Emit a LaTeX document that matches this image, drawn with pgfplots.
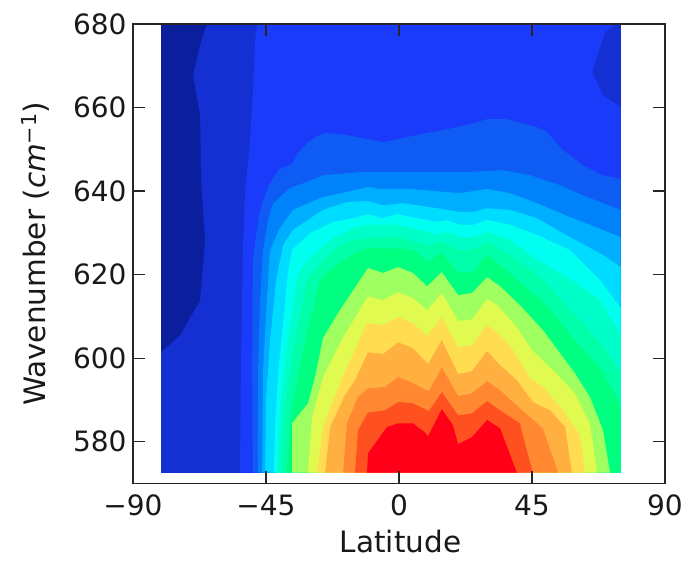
\documentclass[border=0pt]{standalone}
\usepackage{fontspec}
\setmainfont{DejaVu Sans}
\usepackage{pgfplots}
\pgfplotsset{compat=1.18}
\definecolor{c1}{HTML}{0B1F9E}
\definecolor{c2}{HTML}{1430D2}
\definecolor{c3}{HTML}{1A3CFA}
\definecolor{c4}{HTML}{0F5CF5}
\definecolor{c5}{HTML}{0082FA}
\definecolor{c6}{HTML}{00AEFF}
\definecolor{c7}{HTML}{00DCFF}
\definecolor{c8}{HTML}{00FFF0}
\definecolor{c9}{HTML}{00FFC8}
\definecolor{c10}{HTML}{00FFA8}
\definecolor{c11}{HTML}{00FF80}
\definecolor{c12}{HTML}{A0FF60}
\definecolor{c13}{HTML}{E0FA50}
\definecolor{c14}{HTML}{FFDC50}
\definecolor{c15}{HTML}{FFB040}
\definecolor{c16}{HTML}{FF8830}
\definecolor{c17}{HTML}{FF5020}
\definecolor{c18}{HTML}{FF0018}
\begin{document}
\begin{tikzpicture}
\useasboundingbox (-133pt,-77.5pt) rectangle (557pt,483.5pt);
\begin{axis}[
  at={(0pt,0pt)},anchor=south west,
  scale only axis,width=532pt,height=459.5pt,
  xmin=-90,xmax=90,ymin=570,ymax=680,
  axis on top,
  axis line style={line width=1.3pt,black!85},
  tick style={line width=1.2pt,black!85},
  tick align=inside,major tick length=12pt,
  xtick={-90,-45,0,45,90},xticklabels={−90,−45,0,45,90},
  ytick={580,600,620,640,660,680},yticklabels={580,600,620,640,660,680},
  tick label style={font=\fontsize{28}{28}\selectfont,black!90},
  xticklabel style={yshift=-8pt},
  yticklabel style={xshift=-3pt},
  xlabel={Latitude},
  ylabel={Wavenumber ({\itshape cm}\textsuperscript{−1})},
  label style={font=\fontsize{29.5}{29.5}\selectfont,black!90},
  xlabel style={inner sep=0pt,yshift=-10.5pt,xshift=1.5pt},
  ylabel style={yshift=17pt},
  every axis plot/.append style={draw=none,mark=none,forget plot},
]
\addplot[fill=c2] coordinates {(-80.5,572.6)(-80.5,680)(75,680)(75,572.6)};
\addplot[fill=c1] coordinates {(-80.5,680)(-65,680)(-67.3,675)(-69.7,667.8)(-67.3,658.2)(-67,642.2)(-65.6,628.3)(-67.3,613.9)(-74.1,605.5)(-80.5,601.4)};
\addplot[fill=c3] coordinates {(-53.8,572.6)(-53.5,597.1)(-52.8,625.9)(-52.1,639)(-50.4,652.2)(-49.4,664.2)(-48.7,675.7)(-48,680)(73.8,680)(69.7,678.1)(65.3,668.5)(69,663)(75,660.1)(75,572.6)};
\addplot[fill=c4] coordinates {(-49.4,572.6)(-49.7,597.1)(-49.4,623.5)(-48.7,627.5)(-47,635.5)(-44.3,641)(-40.9,645)(-35.9,646.7)(-34.2,649.1)(-31.1,651.5)(-28.4,652.9)(-25,653.9)(-17.6,653.4)(-5.4,651.7)(6.1,653.4)(14.9,654.6)(23,655.8)(29.8,657.2)(36.5,657.2)(46.7,655.3)(50.1,654.1)(55.5,649.8)(62.2,646.2)(69,643.8)(75,642.9)(75,572.6)};
\addplot[fill=c5] coordinates {(-47.7,572.6)(-47.7,597.1)(-47,613.9)(-46,625.9)(-44.3,633.1)(-42.6,637.1)(-36.9,640.7)(-31.1,642.2)(-25.7,643.8)(-12.2,644.6)(24,644.6)(35.2,645)(44.3,643.8)(54.5,641.4)(62.2,639)(75,635.5)(75,572.6)};
\addplot[fill=c6] coordinates {(-46.3,572.6)(-46,597.1)(-44.7,613.9)(-43.6,625.9)(-40.3,631.1)(-35.9,635.5)(-25.7,638.6)(-17.6,639.8)(-10.5,641)(-6.4,640.5)(3.7,640.5)(20.6,639.5)(29.8,640.5)(37.6,639.5)(46.7,637.1)(57.8,633.8)(75,629)(75,572.6)};
\addplot[fill=c7] coordinates {(-45.3,572.6)(-45,589.9)(-43.6,604.3)(-41.6,618.7)(-39.2,627.1)(-35.9,630.7)(-25.7,635.5)(-17.6,637.4)(-10.5,637.6)(-5.4,636.6)(1.4,637.1)(12.9,635.9)(20.6,635)(25,635)(29.8,635.9)(37.6,635.5)(46.7,633.5)(57.8,629)(69,624.7)(75,621.8)(75,572.6)};
\addplot[fill=c8] coordinates {(-42.3,572.6)(-41.9,584.4)(-40.9,596.4)(-39.2,608.4)(-37.6,620.4)(-36.2,625.9)(-34.5,627.1)(-30.1,629.9)(-22.3,632.6)(-15.6,633.5)(-10.5,634.5)(-5.4,633.5)(-0.7,634.5)(6.1,633.5)(12.9,632.6)(16.2,633.1)(20.6,631.9)(25,631.9)(29.8,633.1)(37.6,631.9)(46.7,629.5)(57.8,625.9)(68,618.7)(75,612)(75,572.6)};
\addplot[fill=c9] coordinates {(-41.3,572.6)(-39.9,589.9)(-37.6,604.3)(-34.5,618.7)(-32.8,621.6)(-29.1,624.7)(-22.3,628.7)(-15.6,631.1)(-10.5,631.9)(-0.7,631.9)(6.1,630.9)(12.9,629.5)(16.2,630.2)(20.6,629)(25,629)(29.8,630.2)(37.6,628.3)(46.7,623.5)(58.5,618.7)(68,613.9)(75,605.5)(75,572.6)};
\addplot[fill=c10] coordinates {(-39.9,572.6)(-38.2,589.9)(-35.2,604.3)(-31.1,618.7)(-26.7,622.3)(-22.3,625.9)(-15.6,628.3)(-10.5,628.7)(-0.7,629)(9.5,627.1)(14.5,628)(19.6,625.9)(25,625.9)(29.8,627.8)(37.6,624.7)(46.7,619.9)(48.7,618.7)(60.2,609.8)(68,603.6)(75,596.4)(75,572.6)};
\addplot[fill=c11] coordinates {(-38.2,572.6)(-35.9,589.9)(-31.8,604.3)(-26.7,618.7)(-24.4,620.4)(-17.3,624.2)(-10.8,626.3)(-0.7,626.3)(4.7,625.9)(9.8,623)(14.5,625.4)(19.6,620.6)(25,620.6)(29.8,624.7)(34.2,622.3)(40.9,618.2)(50.1,612.7)(60.2,603.6)(68,597.8)(73.1,591.6)(75,588.2)(75,572.6)};
\addplot[fill=c12] coordinates {(-36.2,572.6)(-36.2,584.4)(-30.8,589.2)(-28.4,595.5)(-25.7,604.8)(-20,611.5)(-10.5,621.6)(-5.4,620.4)(-0.3,621.8)(4.7,620.4)(9.5,617.2)(14.5,620.6)(20,615.1)(24.7,615.6)(29.8,619.4)(34.2,617.2)(40.9,612.7)(48.7,606.7)(59.5,596.4)(64.6,590.7)(69,582.8)(71.4,572.6)};
\addplot[fill=c13] coordinates {(-30.8,572.6)(-29.4,585.9)(-25.7,595.5)(-18.9,605)(-10.5,614.8)(-5.4,613.9)(-0.3,615.8)(4.7,614.4)(9.5,611.5)(14.5,615.6)(20,608.9)(24.7,609.3)(29.8,614.1)(33.2,612.7)(39.9,607.4)(45,601.9)(53.8,595.9)(59.5,591.6)(64.6,584.4)(67,572.6)};
\addplot[fill=c14] coordinates {(-27.7,572.6)(-25.7,583.5)(-22.7,589.2)(-18.3,596.7)(-10.8,608.4)(-5.4,607.9)(-0.3,609.8)(4.7,608.4)(9.5,605.3)(14.5,609.8)(20,602.6)(24.7,603.1)(29.8,607.9)(34.2,605.5)(38.6,601.9)(44.3,595.2)(48.7,593.1)(55.5,587.5)(61.2,581.6)(62.9,572.6)};
\addplot[fill=c15] coordinates {(-25,572.6)(-23.3,583.5)(-18.3,591.1)(-14.9,594.7)(-10.5,601.4)(-5.4,601)(-0.3,603.8)(4.7,602.4)(9.8,598.6)(14.5,604.3)(20,596.2)(24.7,596.9)(29.8,601.7)(34.2,598.3)(39.9,594.7)(45.3,589.5)(51.1,587.5)(56.2,583.5)(58.5,572.6)};
\addplot[fill=c16] coordinates {(-18.9,572.6)(-17.6,584.4)(-13.9,590.7)(-10.5,592.8)(-4.7,593.1)(-0.3,595.5)(4.7,594)(10.1,592.1)(14.5,597.8)(20,590.9)(24.7,591.6)(29.8,594.5)(34.2,592.3)(40.9,588)(48.7,583.2)(53.8,572.6)};
\addplot[fill=c17] coordinates {(-14.9,572.6)(-13.9,582.7)(-10.5,587)(-4.7,587.5)(-0.3,589.5)(4.7,589.2)(10.1,587.3)(14.5,591.9)(20,586.3)(24.7,586.8)(29.8,589.7)(34.2,587.5)(40.9,584.4)(42.6,579.6)(45.3,572.6)};
\addplot[fill=c18] coordinates {(-10.8,572.6)(-10.5,577.2)(-4.1,583.5)(-0.3,584.4)(4.7,584.4)(8.8,582.2)(9.8,581.3)(14.5,587.8)(18.3,583.9)(20,579.4)(24.7,581.1)(29.8,585.2)(34.2,583.2)(39.9,572.6)};
\end{axis}
\end{tikzpicture}
\end{document}
